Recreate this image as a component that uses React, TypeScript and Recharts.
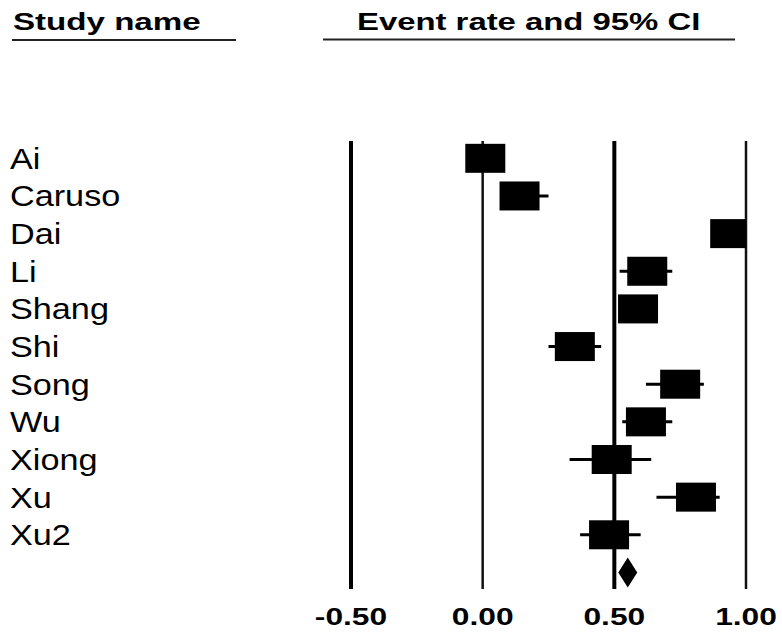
import React from 'react';
import { ScatterChart, Scatter, XAxis, YAxis, ErrorBar, ReferenceLine, ReferenceArea } from 'recharts';

const studies = ['Ai', 'Caruso', 'Dai', 'Li', 'Shang', 'Shi', 'Song', 'Wu', 'Xiong', 'Xu', 'Xu2'];
const estimates = [0.01, 0.14, 0.94, 0.625, 0.59, 0.35, 0.75, 0.62, 0.49, 0.81, 0.48];
const lowers = [0.0, 0.08, 0.9, 0.52, 0.52, 0.25, 0.62, 0.53, 0.33, 0.66, 0.37];
const uppers = [0.05, 0.25, 0.97, 0.72, 0.65, 0.45, 0.84, 0.72, 0.64, 0.9, 0.6];
const pooled = { est: 0.55, lo: 0.515, hi: 0.587 };
const xTicks = [-0.5, 0, 0.5, 1.0];
const rowTicks = studies.map((_, i) => i);

const data = studies.map((name, i) => ({
  name,
  row: i,
  est: estimates[i],
  err: [estimates[i] - lowers[i], uppers[i] - estimates[i]],
}));

const FONT = '"Liberation Sans", Arial, sans-serif';

const Square = (props: any) => {
  const { cx, cy } = props;
  if (cx == null || cy == null) return null;
  return <rect x={cx - 20} y={cy - 14.5} width={40} height={29} fill="#000" />;
};

const Diamond = (props: any) => {
  const { x, y, width, height } = props;
  const mx = x + width / 2;
  const my = y + height / 2;
  return (
    <polygon
      points={`${x},${my} ${mx},${y} ${x + width},${my} ${mx},${y + height}`}
      fill="#000"
    />
  );
};

const YTick = (props: any) => {
  const { y, payload } = props;
  return (
    <g transform={`translate(10,${y})`}>
      <text transform="scale(1.18,1)" y={10.5} fontSize={29} fontFamily={FONT} fill="#000">
        {studies[payload.value]}
      </text>
    </g>
  );
};

const XTick = (props: any) => {
  const { x, payload } = props;
  return (
    <g transform={`translate(${x},625)`}>
      <text
        transform="scale(1.38,1)"
        textAnchor="middle"
        fontSize={23}
        fontWeight="bold"
        fontFamily={FONT}
        fill="#000"
      >
        {Number(payload.value).toFixed(2)}
      </text>
    </g>
  );
};

export default function App() {
  return (
    <div style={{ position: 'absolute', left: 0, top: 0, width: 782, height: 632, background: '#fff' }}>
      <ScatterChart width={782} height={632} margin={{ top: 141, right: 36, bottom: 0, left: 0 }}>
        <XAxis
          type="number"
          dataKey="est"
          domain={[-0.5, 1.0]}
          ticks={xTicks}
          allowDataOverflow
          axisLine={false}
          tickLine={false}
          height={43}
          tick={<XTick />}
          interval={0}
        />
        <YAxis
          type="number"
          dataKey="row"
          domain={[-0.46, 11.44]}
          ticks={rowTicks}
          reversed
          allowDataOverflow
          axisLine={false}
          tickLine={false}
          width={351}
          tick={<YTick />}
          interval={0}
        />
        <ReferenceLine x={-0.5} stroke="#000" strokeWidth={4} />
        <ReferenceLine x={0} stroke="#111" strokeWidth={2.5} />
        <ReferenceLine x={0.5} stroke="#000" strokeWidth={4} />
        <ReferenceLine x={1.0} stroke="#111" strokeWidth={2.5} />
        <Scatter data={data} dataKey="est" shape={<Square />} isAnimationActive={false}>
          <ErrorBar dataKey="err" direction="x" width={0} stroke="#000" strokeWidth={3} isAnimationActive={false} />
        </Scatter>
        <ReferenceArea
          x1={pooled.lo}
          x2={pooled.hi}
          y1={studies.length - 0.4}
          y2={studies.length + 0.4}
          shape={<Diamond />}
          ifOverflow="visible"
        />
      </ScatterChart>
      <svg
        width={782}
        height={632}
        style={{ position: 'absolute', left: 0, top: 0, pointerEvents: 'none' }}
      >
        <text transform="translate(13,30) scale(1.38,1)" fontSize={24} fontWeight="bold" fontFamily={FONT} fill="#000">
          Study name
        </text>
        <line x1={12} y1={40} x2={236} y2={40} stroke="#222" strokeWidth={2} />
        <text transform="translate(357,30) scale(1.37,1)" fontSize={24} fontWeight="bold" fontFamily={FONT} fill="#000">
          Event rate and 95% CI
        </text>
        <line x1={323} y1={39.5} x2={735} y2={39.5} stroke="#222" strokeWidth={2} />
      </svg>
    </div>
  );
}
